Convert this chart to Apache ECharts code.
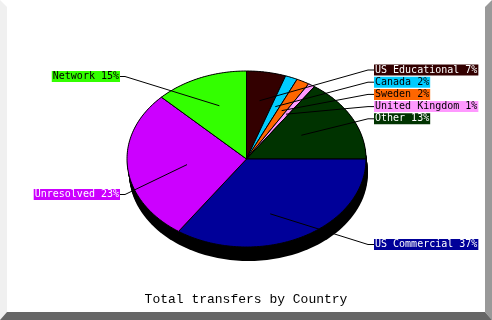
<!DOCTYPE html>
<html><head><meta charset="utf-8">
<script src="https://cdn.jsdelivr.net/npm/echarts@6/dist/echarts.min.js"></script>
<style>html,body{margin:0;padding:0;background:#fff}#c{width:492px;height:320px}</style>
</head><body><div id="c"></div>
<script>
// ---- data ----
const categories = ['US Educational','Canada','Sweden','United Kingdom','Other','US Commercial','Unresolved','Network'];
const values = [7, 2, 2, 1, 13, 37, 23, 15];
const titleText = 'Total transfers by Country';

// ---- styles / layout ----
const colors = ['#330000','#00ccff','#ff6600','#ff99ff','#003300','#000099','#cc00ff','#33ff00'];
const textColors = ['#ffffff','#000000','#000000','#000000','#ffffff','#ffffff','#ffffff','#000000'];
const labelSide = ['r','r','r','r','r','r','l','l'];
const labelY = [70, 82.2, 94.4, 106.6, 118.8, 244.5, 194.5, 76.5];

const total = values.reduce((a,b)=>a+b,0);
const starts = []; let acc = 0;
values.forEach(v => { starts.push(acc); acc += v; });

function geom(api){
  const s = api.size([2,2]);
  const c = api.coord([0,0]);
  return {rx: s[0]/2, ry: s[1]/2, cx: c[0], cy: c[1]};
}
function ellPt(api, g, phi, dx, dy){
  const sx = Math.sin(phi), cy = Math.cos(phi);
  const R = 1/Math.sqrt((sx/g.rx)**2 + (cy/g.ry)**2);
  const p = api.coord([R*sx/g.rx, R*cy/g.ry]);
  return [p[0]+(dx||0), p[1]+(dy||0)];
}

const option = {
  animation: false,
  backgroundColor: '#ffffff',
  title: {
    text: titleText, left: 'center', top: 288,
    textStyle: {fontFamily: 'Liberation Mono', fontSize: 13, fontWeight: 'normal', color: '#000'}
  },
  grid: {left: 127, top: 71, width: 239, height: 176},
  xAxis: {type: 'value', min: -1, max: 1, show: false},
  yAxis: {type: 'value', min: -1, max: 1, show: false},
  graphic: [
    {type: 'polygon', shape: {points: [[0,0],[7,7],[7,312],[0,320]]}, style: {fill: '#f0f0f0'}, z: 100},
    {type: 'polygon', shape: {points: [[492,0],[492,320],[485,312],[485,7]]}, style: {fill: '#999999'}, z: 100},
    {type: 'polygon', shape: {points: [[0,320],[7,312],[485,312],[492,320]]}, style: {fill: '#666666'}, z: 100}
  ],
  series: [
    { // 3D depth
      type: 'custom', coordinateSystem: 'cartesian2d', silent: true, z: 1,
      data: [[0,0]],
      renderItem: function(params, api){
        const g = geom(api);
        const children = [];
        const N = 10;
        for (let k = 0; k <= N; k++){
          const pts = [];
          for (let a = 0; a < 360; a += 2) pts.push(ellPt(api, g, a*Math.PI/180, 2*k/N, 14*k/N));
          children.push({type: 'polygon', shape: {points: pts}, style: {fill: '#000'}});
        }
        return {type: 'group', children};
      }
    },
    { // slices
      type: 'custom', coordinateSystem: 'cartesian2d', silent: true, z: 2,
      data: values.map((v,i)=>[i, v]),
      renderItem: function(params, api){
        const i = params.dataIndex;
        const g = geom(api);
        const a0 = starts[i]/total*2*Math.PI, a1 = (starts[i]+values[i])/total*2*Math.PI;
        const pts = [[g.cx, g.cy]];
        const n = Math.max(2, Math.ceil((a1-a0)/(Math.PI/180)));
        for (let k = 0; k <= n; k++) pts.push(ellPt(api, g, a0 + (a1-a0)*k/n));
        return {type: 'polygon', shape: {points: pts}, style: {fill: colors[i], stroke: '#000', lineWidth: 1}};
      }
    },
    { // labels
      type: 'custom', coordinateSystem: 'cartesian2d', silent: true, z: 3,
      data: values.map((v,i)=>[i, v]),
      renderItem: function(params, api){
        const i = params.dataIndex;
        const g = geom(api);
        const am = (starts[i]+values[i]/2)/total*2*Math.PI;
        const r0 = g.rx*0.5;
        const p0 = [g.cx + r0*Math.sin(am), g.cy - r0*Math.cos(am)];
        const right = labelSide[i] === 'r';
        const lx = right ? g.cx + g.rx + 8 : g.cx - g.rx - 7;
        const ly = labelY[i];
        const bend = [right ? lx - 6 : lx + 5, ly];
        const txt = categories[i] + ' ' + values[i] + '%';
        return {type: 'group', children: [
          {type: 'polyline', shape: {points: [p0, bend, [lx, ly]]}, style: {stroke: '#000', lineWidth: 1, fill: null}},
          {type: 'text', style: {
            text: txt, x: lx, y: ly,
            font: '10px "DejaVu Sans Mono"',
            fill: textColors[i], backgroundColor: colors[i],
            padding: [1,1,0,1], lineHeight: 10,
            align: right ? 'left' : 'right', verticalAlign: 'middle',
            textAlign: right ? 'left' : 'right', textVerticalAlign: 'middle'
          }}
        ]};
      }
    }
  ]
};
const chart = echarts.init(document.getElementById('c'), null, {renderer: 'canvas'});
chart.setOption(option);
</script>
</body></html>
